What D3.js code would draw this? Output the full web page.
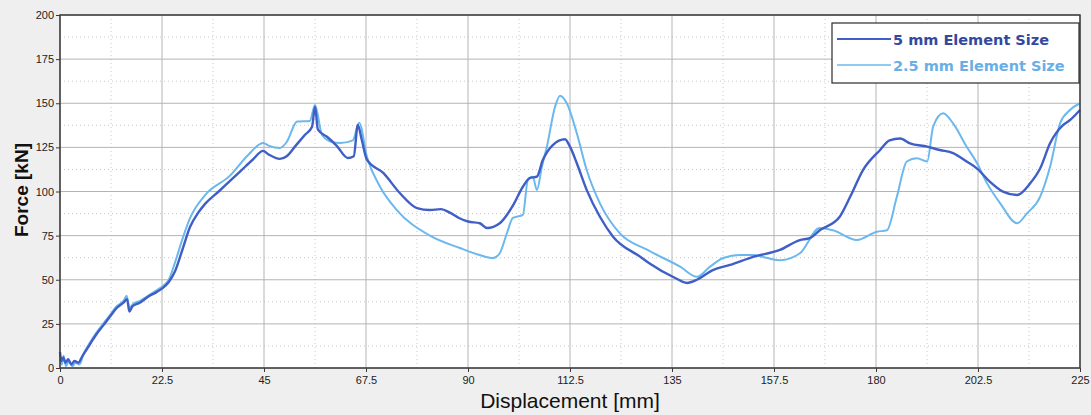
<!DOCTYPE html>
<html>
<head>
<meta charset="utf-8">
<script src="https://cdn.jsdelivr.net/npm/d3@7"></script>
<style>
  body { margin: 0; background: #efefef; }
  svg { display: block; font-family: "Liberation Sans", Arial, sans-serif; }
</style>
</head>
<body>
<svg id="vis" width="1091" height="415"></svg>
<script>
// displacement [mm] / force [kN]
const dispCoarse = [0, 0.3, 0.7, 1.2, 1.8, 2.5, 3.2, 4, 5, 6.5, 8, 9.5, 11, 12.5, 14, 14.8, 15.3, 16, 17.6, 19.5, 21.3, 22.5, 24, 25.4, 27, 28.7, 30.5, 32, 35, 37.5, 40, 42.5, 44.8, 46, 48.5, 50, 52, 54, 55.6, 56.25, 56.9, 58.9, 61, 63.5, 64.8, 65.7, 66.5, 67.7, 71.3, 75, 78.75, 81.6, 84, 86, 88, 90, 92.6, 94.2, 97, 99.9, 102.1, 103.6, 105.2, 106.5, 108.7, 111.4, 112.5, 114, 116.2, 119.1, 122, 128, 129.9, 135.7, 138.3, 140.5, 144, 147.8, 152.9, 158.8, 163.2, 165.4, 167.6, 172, 174.3, 177.1, 180.9, 183, 185.3, 187.5, 191.3, 194.1, 197, 200, 202.3, 205.1, 208, 211.1, 214, 216.2, 218.4, 221.3, 222.8, 225];
const forceCoarse = [9, 4, 6, 3, 5, 2, 4, 3, 7, 13, 19, 24, 29, 34, 37, 39, 32, 35, 37, 40.5, 43, 45, 48.7, 55, 67, 80, 88, 93, 100, 106, 112, 118, 123, 121, 118.5, 120, 126, 132, 136.7, 148, 135, 131, 126, 119, 120, 137.7, 130, 118, 110.5, 99, 90.6, 89.5, 90, 88, 85, 83, 82, 79.3, 82, 92, 102.7, 107.6, 108.4, 117.8, 126.3, 129.6, 125.4, 116, 100.8, 85.7, 74.4, 63, 59.5, 51, 48.2, 50, 55.5, 58.4, 63, 66.9, 72.5, 73.6, 78, 85.7, 97, 112, 123.5, 129, 130, 127.3, 125.4, 123.5, 121.8, 117, 113, 105.6, 99.9, 98, 104.6, 113, 127.3, 137.7, 140.5, 146.2];

const dispFine = [0, 0.4, 0.8, 1.3, 2, 2.7, 3.5, 4.3, 5.2, 6.5, 8, 9.5, 11, 12.5, 14, 14.7, 15.3, 16.2, 17.6, 19.5, 21.3, 22.5, 24, 25.4, 27, 28.7, 32, 37.5, 41.5, 44.8, 46, 48.5, 50, 52.3, 55.1, 56.25, 57.8, 60, 61.8, 64.6, 66, 67.7, 70.6, 74.3, 81.6, 88.2, 92.6, 95.5, 97, 98.6, 99.9, 102.1, 103.2, 104.3, 105.2, 106.3, 107.4, 109.2, 110.3, 111.8, 114, 116.2, 119.1, 123.5, 129.5, 136.8, 140.5, 143.4, 146.3, 150, 152.9, 156, 158.8, 163.2, 167.6, 170.5, 175.8, 180.2, 182.4, 184.6, 186.8, 189, 191.3, 192.6, 194.8, 197, 200, 202.3, 204.5, 207.4, 211.1, 213.3, 216.2, 218.4, 220.6, 222.8, 225];
const forceFine = [5, 2, 7, 1, 4, 1, 3, 2, 8, 14, 20, 25, 30, 35, 38, 41, 34, 36.5, 38, 41, 44, 46, 50, 60, 73, 85, 98, 109, 120.7, 127.5, 126, 124.6, 128, 139.6, 140, 149, 132, 128, 127.5, 129, 139, 119.7, 102.7, 89.5, 75, 68, 64, 62.3, 65, 76.5, 85, 86.7, 106.5, 108.4, 100.8, 114, 125.4, 148, 154.3, 150, 133, 112, 93.3, 76.3, 67, 57.4, 51.7, 57.4, 62.3, 64, 64, 62.3, 61, 65, 79.3, 78, 72.5, 77.2, 78, 97, 117, 118.8, 117, 136.7, 144.3, 138.6, 125.4, 116, 104.6, 93.3, 82, 87.6, 97, 114, 138.6, 146.2, 150];

const xTicks = [0, 22.5, 45, 67.5, 90, 112.5, 135, 157.5, 180, 202.5, 225];
const yTicks = [0, 25, 50, 75, 100, 125, 150, 175, 200];
const seriesNames = ['5 mm Element Size', '2.5 mm Element Size'];
const seriesColors = ['#3f5fc6', '#6ab8ee'];
const legendTextColors = ['#33489f', '#6aaee6'];

const svg = d3.select('#vis');
const plot = { left: 60, right: 1080, top: 15, bottom: 368 };

const x = d3.scaleLinear().domain([0, 225]).range([plot.left, plot.right]);
const y = d3.scaleLinear().domain([0, 200]).range([plot.bottom, plot.top]);

svg.append('rect')
  .attr('x', plot.left).attr('y', plot.top)
  .attr('width', plot.right - plot.left).attr('height', plot.bottom - plot.top)
  .attr('fill', '#fff');

// minor dotted grid at half steps
const grid = svg.append('g');
grid.selectAll('line.xminor').data(xTicks.slice(0, -1).map(d => d + 11.25))
  .enter().append('line')
    .attr('x1', d => x(d)).attr('x2', d => x(d))
    .attr('y1', plot.top).attr('y2', plot.bottom)
    .attr('stroke', '#c8c8c8').attr('stroke-dasharray', '1,3');
grid.selectAll('line.yminor').data(yTicks.slice(0, -1).map(d => d + 12.5))
  .enter().append('line')
    .attr('y1', d => y(d)).attr('y2', d => y(d))
    .attr('x1', plot.left).attr('x2', plot.right)
    .attr('stroke', '#c8c8c8').attr('stroke-dasharray', '1,3');
// major grid
grid.selectAll('line.xmajor').data(xTicks)
  .enter().append('line')
    .attr('x1', d => x(d)).attr('x2', d => x(d))
    .attr('y1', plot.top).attr('y2', plot.bottom)
    .attr('stroke', '#b4b4b4');
grid.selectAll('line.ymajor').data(yTicks)
  .enter().append('line')
    .attr('y1', d => y(d)).attr('y2', d => y(d))
    .attr('x1', plot.left).attr('x2', plot.right)
    .attr('stroke', '#b4b4b4');

// curves
const line = d3.line()
  .x(d => x(d[0]))
  .y(d => y(d[1]))
  .curve(d3.curveMonotoneX);

const series = [
  d3.zip(dispCoarse, forceCoarse),
  d3.zip(dispFine, forceFine)
];

svg.append('g').selectAll('path').data([1, 0])
  .enter().append('path')
    .attr('d', i => line(series[i]))
    .attr('fill', 'none')
    .attr('stroke', i => seriesColors[i])
    .attr('stroke-width', i => i === 0 ? 2.4 : 2)
    .attr('stroke-linejoin', 'round');

// frame
svg.append('rect')
  .attr('x', plot.left).attr('y', plot.top)
  .attr('width', plot.right - plot.left).attr('height', plot.bottom - plot.top)
  .attr('fill', 'none').attr('stroke', '#3a3a3a').attr('stroke-width', 1.5);

// axes
const xAxis = svg.append('g')
  .attr('transform', `translate(0,${plot.bottom})`)
  .call(d3.axisBottom(x).tickValues(xTicks).tickSize(4).tickPadding(4).tickFormat(d => d));
const yAxis = svg.append('g')
  .attr('transform', `translate(${plot.left},0)`)
  .call(d3.axisLeft(y).tickValues(yTicks).tickSize(4).tickPadding(2).tickFormat(d => d));
[xAxis, yAxis].forEach(a => {
  a.select('.domain').remove();
  a.selectAll('.tick line').attr('stroke', '#3a3a3a');
  a.selectAll('.tick text').attr('fill', '#222').style('font-size', '11px')
    .style('font-family', '"Liberation Sans", Arial, sans-serif');
});

svg.append('text')
  .attr('x', 570).attr('y', 408)
  .attr('text-anchor', 'middle')
  .style('font-size', '21px').attr('fill', '#111')
  .text('Displacement [mm]');
svg.append('text')
  .attr('transform', `translate(28,190) rotate(-90)`)
  .attr('text-anchor', 'middle')
  .style('font-size', '19px').style('font-weight', 'bold').attr('fill', '#111')
  .text('Force [kN]');

// legend
const legend = svg.append('g');
legend.append('rect')
  .attr('x', 832).attr('y', 23).attr('width', 247).attr('height', 60)
  .attr('fill', '#fff').attr('stroke', '#2a2a2a').attr('stroke-width', 1.2);
const items = legend.selectAll('g.item').data(seriesNames)
  .enter().append('g')
    .attr('transform', (d, i) => `translate(0,${39 + i * 26})`);
items.append('line')
  .attr('x1', 837).attr('x2', 891).attr('y1', 0).attr('y2', 0)
  .attr('stroke', (d, i) => seriesColors[i]).attr('stroke-width', (d, i) => i === 0 ? 2.2 : 1.6);
items.append('text')
  .attr('x', 893).attr('y', 5.5)
  .style('font-size', '14.5px').style('font-weight', 'bold')
  .style('font-family', '"DejaVu Sans", Verdana, sans-serif')
  .attr('fill', (d, i) => legendTextColors[i])
  .text(d => d);
</script>
</body>
</html>
